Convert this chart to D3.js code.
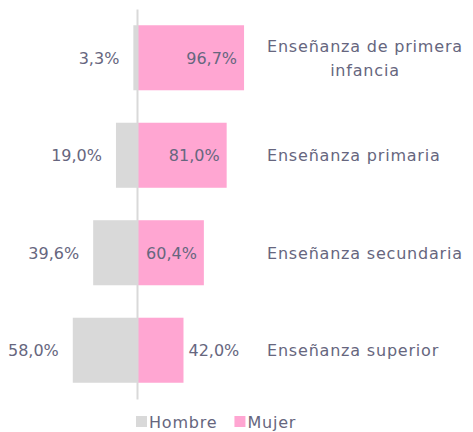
<!DOCTYPE html>
<html><head><meta charset="utf-8">
<script src="https://cdn.jsdelivr.net/npm/d3@7"></script>
<style>body{margin:0;background:#fff;} text{font-family:"DejaVu Sans",sans-serif;fill:#66667e;}</style>
</head><body><svg id="c" width="473" height="432"></svg>
<script>
const categories = ["Enseñanza de primera infancia","Enseñanza primaria","Enseñanza secundaria","Enseñanza superior"];
const categoryLines = [["Enseñanza de primera","infancia"],["Enseñanza primaria"],["Enseñanza secundaria"],["Enseñanza superior"]];
const hombre = [3.3, 19.0, 39.6, 58.0];
const mujer = [96.7, 81.0, 60.4, 42.0];
const seriesNames = ["Hombre","Mujer"];
const colors = {Hombre:"#d9d9d9", Mujer:"#ffa6d2"};
const fmt = v => v.toFixed(1).replace(".", ",") + "%";

const svg = d3.select("#c");
const FS = 16, LS = 0.8, VLS = 0;
const x = d3.scaleLinear().domain([-100,100]).range([26.3,247.7]);
const y = d3.scaleBand().domain(categories).range([9,399]).paddingInner(0.333).paddingOuter(0.1667);

const g = svg.append("g");
g.selectAll("rect.h").data(categories).join("rect").attr("class","h")
  .attr("x", (d,i)=>x(-hombre[i])).attr("width",(d,i)=>x(0)-x(-hombre[i]))
  .attr("y", d=>y(d)).attr("height", y.bandwidth()).attr("fill", colors.Hombre);
g.selectAll("rect.m").data(categories).join("rect").attr("class","m")
  .attr("x", x(0)).attr("width",(d,i)=>x(mujer[i])-x(0))
  .attr("y", d=>y(d)).attr("height", y.bandwidth()).attr("fill", colors.Mujer);
const ax = d3.axisLeft(y).tickSize(0).tickFormat("");
svg.append("g").attr("transform",`translate(${x(0)},0)`).call(ax)
  .call(s=>s.select(".domain").attr("stroke","#d9d9d9").attr("stroke-width",2));

g.selectAll("text.hl").data(categories).join("text").attr("class","hl")
  .attr("x",(d,i)=>x(-hombre[i])-14).attr("y",d=>y(d)+y.bandwidth()/2).attr("dy","0.38em")
  .attr("text-anchor","end").style("font-size",FS+"px").style("letter-spacing",VLS+"px")
  .text((d,i)=>fmt(hombre[i]));
g.selectAll("text.ml").data(categories).join("text").attr("class","ml")
  .attr("y",d=>y(d)+y.bandwidth()/2).attr("dy","0.38em")
  .style("font-size",FS+"px").style("letter-spacing",VLS+"px")
  .text((d,i)=>fmt(mujer[i]))
  .each(function(d,i){
    const w = this.getComputedTextLength();
    const bw = x(mujer[i])-x(0);
    const t = d3.select(this);
    if (w + 10 < bw) t.attr("x", x(mujer[i])-7).attr("text-anchor","end");
    else t.attr("x", x(mujer[i])+5).attr("text-anchor","start");
  });

const labX = 267;
categoryLines.forEach((lines,i)=>{
  const cy = y(categories[i]) + y.bandwidth()/2;
  const t = svg.append("text").style("font-size",FS+"px").style("letter-spacing",LS+"px");
  if (lines.length===1) {
    t.attr("x",labX).attr("y",cy).attr("dy","0.38em").text(lines[0]);
  } else {
    const first = t.append("tspan").attr("x",labX).attr("y",cy-12).attr("dy","0.38em").text(lines[0]);
    const w = first.node().getComputedTextLength();
    first.attr("x", labX + w/2).attr("text-anchor","middle");
    lines.slice(1).forEach((ln,k)=>{
      t.append("tspan").attr("x",labX + w/2).attr("y",cy+12+24*k).attr("dy","0.38em").attr("text-anchor","middle").text(ln);
    });
  }
});

const leg = svg.append("g").attr("transform","translate(136,416)");
let lx = 0;
seriesNames.forEach(n=>{
  const it = leg.append("g").attr("transform",`translate(${lx},0)`);
  it.append("rect").attr("width",11).attr("height",11).attr("fill",colors[n]);
  const tx = it.append("text").attr("x",13).attr("y",5.5).attr("dy","0.38em")
    .style("font-size",FS+"px").style("letter-spacing",LS+"px").text(n);
  lx += 13 + tx.node().getComputedTextLength() + 17;
});
</script></body></html>
